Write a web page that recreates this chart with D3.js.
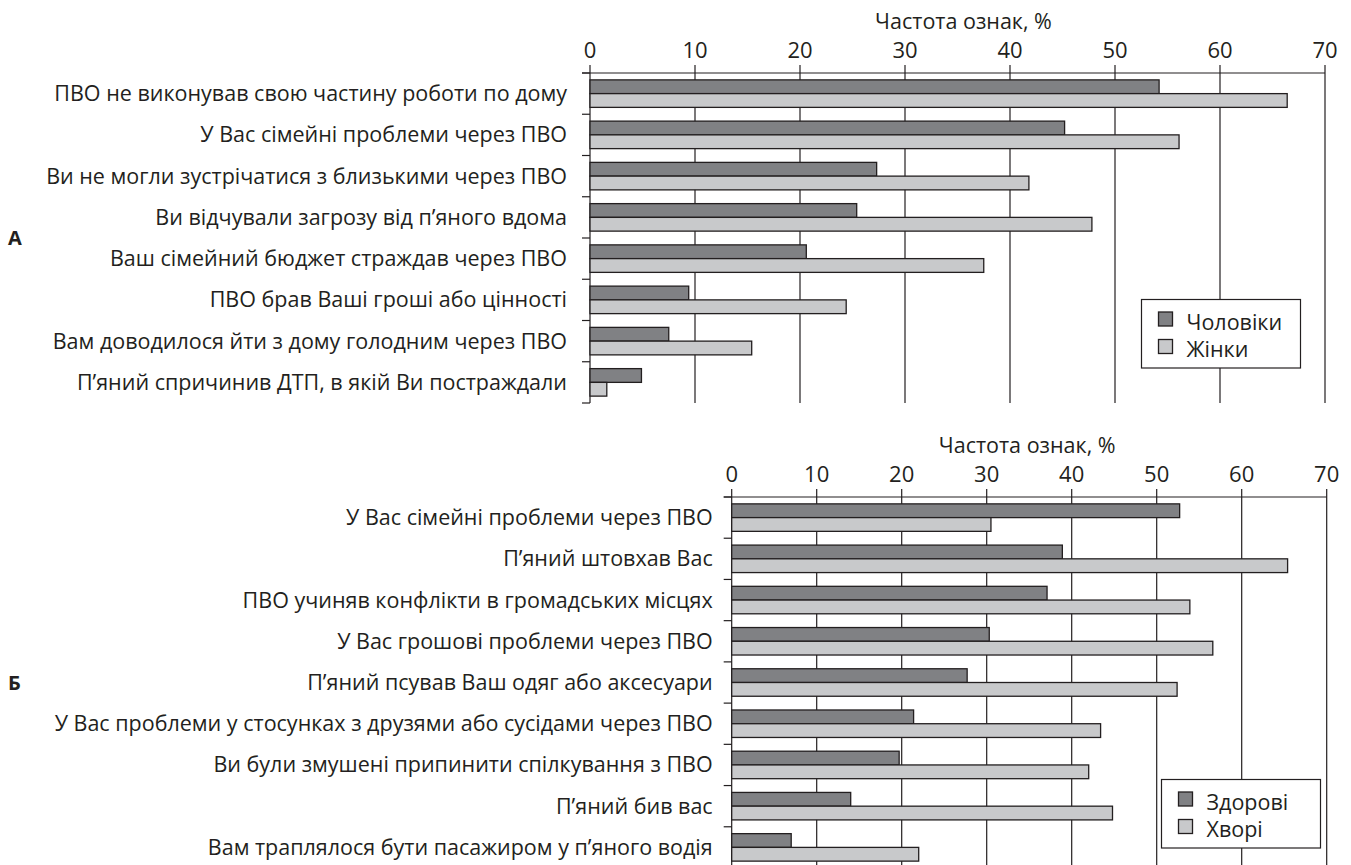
<!DOCTYPE html>
<html lang="uk">
<head>
    <meta charset="UTF-8">
    <title>Частота ознак</title>
    <script src="https://cdn.jsdelivr.net/npm/d3@7"></script>
    <style>
        body { margin: 0; background: #fff; }
        text {
            font-family: 'Open Sans', 'Noto Sans', sans-serif;
            fill: #231f20;
        }
        .grid, .tick-line, .axis-line { stroke: #231f20; stroke-width: 1.2; fill: none; }
        .bar { stroke: #231f20; stroke-width: 1.3; }
    </style>
</head>
<body>
<svg id="chart" width="1351" height="865"></svg>
<script>
    // --- data ---
    const ticks = [0, 10, 20, 30, 40, 50, 60, 70];

    const catsA = [
        "ПВО не виконував свою частину роботи по дому",
        "У Вас сімейні проблеми через ПВО",
        "Ви не могли зустрічатися з близькими через ПВО",
        "Ви відчували загрозу від п’яного вдома",
        "Ваш сімейний бюджет страждав через ПВО",
        "ПВО брав Ваші гроші або цінності",
        "Вам доводилося йти з дому голодним через ПВО",
        "П’яний спричинив ДТП, в якій Ви постраждали"
    ];
    const men   = [54.2, 45.2, 27.3, 25.4, 20.6, 9.4, 7.5, 4.9];
    const women = [66.4, 56.1, 41.8, 47.8, 37.5, 24.4, 15.4, 1.6];
    const seriesA = ["Чоловіки", "Жінки"];

    const catsB = [
        "У Вас сімейні проблеми через ПВО",
        "П’яний штовхав Вас",
        "ПВО учиняв конфлікти в громадських місцях",
        "У Вас грошові проблеми через ПВО",
        "П’яний псував Ваш одяг або аксесуари",
        "У Вас проблеми у стосунках з друзями або сусідами через ПВО",
        "Ви були змушені припинити спілкування з ПВО",
        "П’яний бив вас",
        "Вам траплялося бути пасажиром у п’яного водія"
    ];
    const healthy = [52.7, 38.9, 37.1, 30.3, 27.7, 21.4, 19.7, 14.0, 7.0];
    const sick    = [30.5, 65.4, 53.9, 56.6, 52.4, 43.4, 42.0, 44.8, 22.0];
    const seriesB = ["Здорові", "Хворі"];

    const colors = ["#808184", "#c8c9cb"];
    const fs = "21.5px";
    const svg = d3.select("#chart");

    // one panel: title, top axis, grid, grouped horizontal bars, legend
    function panel(o) {
        const x = d3.scaleLinear().domain([0, 70]).range([o.x0, o.x1]);
        const y = d3.scaleBand().domain(o.cats).range([o.y0, o.y1]);
        const bw = y.bandwidth();
        const g = svg.append("g");

        g.append("text")
            .attr("x", (o.x0 + o.x1) / 2 + o.titleDx).attr("y", o.y0 - 44)
            .attr("text-anchor", "middle").style("font-size", fs)
            .text("Частота ознак, %");

        // vertical grid lines + tick labels
        g.selectAll("line.grid").data(ticks).join("line")
            .attr("class", "grid")
            .attr("x1", d => x(d)).attr("x2", d => x(d))
            .attr("y1", o.y0 - 8).attr("y2", o.gridEnd);
        g.selectAll("text.tl").data(ticks).join("text")
            .attr("class", "tl")
            .attr("x", d => x(d)).attr("y", o.y0 - 15)
            .attr("text-anchor", "middle").style("font-size", "22px")
            .text(d => d);

        g.append("line").attr("class", "axis-line")
            .attr("x1", o.x0 - 8).attr("x2", o.x1)
            .attr("y1", o.y0).attr("y2", o.y0);

        // category ticks at band edges
        const edges = o.cats.map(c => y(c)).concat([y(o.cats[o.cats.length - 1]) + bw]);
        g.selectAll("line.tick-line").data(edges).join("line")
            .attr("class", "tick-line")
            .attr("x1", o.x0 - 8).attr("x2", o.x0)
            .attr("y1", d => d).attr("y2", d => d);

        g.selectAll("text.cat").data(o.cats).join("text")
            .attr("class", "cat")
            .attr("x", o.x0 - o.labelGap).attr("y", d => y(d) + bw / 2 + 7.5)
            .attr("text-anchor", "end").style("font-size", fs)
            .text(d => d);

        // bars
        o.series.forEach((vals, i) => {
            g.selectAll("rect.s" + i).data(vals).join("rect")
                .attr("class", "bar s" + i)
                .attr("x", x(0))
                .attr("y", (d, j) => y(o.cats[j]) + bw / 6 + i * bw / 3)
                .attr("width", d => x(d) - x(0))
                .attr("height", bw / 3)
                .style("fill", colors[i]);
        });

        // panel letter
        g.append("text")
            .attr("x", 8).attr("y", (o.y0 + o.y1) / 2 + 7)
            .style("font-size", "20px").style("font-weight", "bold")
            .text(o.letter);

        // legend
        const lg = g.append("g").attr("transform", `translate(${o.legend[0]},${o.legend[1]})`);
        lg.append("rect").attr("width", 159).attr("height", 68.5)
            .style("fill", "#fff").style("stroke", "#231f20").style("stroke-width", 1.2);
        o.names.forEach((n, i) => {
            lg.append("rect").attr("x", 17).attr("y", 12.5 + i * 27.5)
                .attr("width", 14).attr("height", 14)
                .style("fill", colors[i]).style("stroke", "#231f20").style("stroke-width", 1.3);
            lg.append("text").attr("x", 45).attr("y", 30 + i * 27)
                .style("font-size", fs).text(n);
        });
    }

    panel({
        cats: catsA, series: [men, women], names: seriesA, letter: "А",
        x0: 590, x1: 1325, y0: 73, y1: 403, gridEnd: 403,
        labelGap: 23, titleDx: 6, legend: [1141.5, 299.5]
    });
    panel({
        cats: catsB, series: [healthy, sick], names: seriesB, letter: "Б",
        x0: 731.7, x1: 1326.7, y0: 497, y1: 868, gridEnd: 868,
        labelGap: 19, titleDx: -2, legend: [1161.5, 779.5]
    });
</script>
</body>
</html>
